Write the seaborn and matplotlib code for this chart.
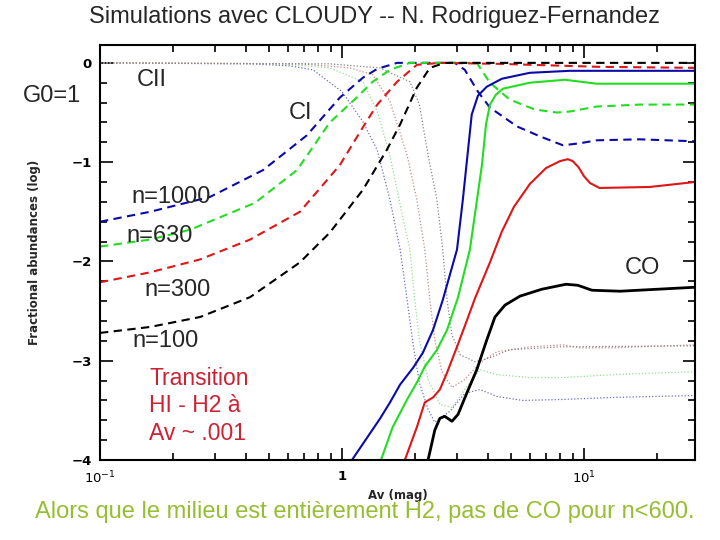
import matplotlib
matplotlib.use("Agg")
import matplotlib.pyplot as plt
import seaborn as sns
from matplotlib.ticker import MultipleLocator, LogLocator, NullFormatter

# ------------------------------------------------------
# Data (Av in mag, log abundances)
# ------------------------------------------------------
densities = ["1000", "630", "300", "100"]
colors = {"1000": "#0a0aa8", "630": "#22dd22", "300": "#dd1616", "100": "#000000"}
dot_colors = {"1000": "#6a6ac8", "630": "#8fe08f", "300": "#d08585", "100": "#858585"}

# CII (dashed)
cii_av = {
    "1000": [0.1, 0.161, 0.285, 0.472, 0.716, 0.98, 1.22, 1.40, 1.69, 2.93, 3.22, 3.65,
             4.09, 5.29, 6.58, 8.19, 9.62, 11.3, 17.0, 28.8],
    "630": [0.1, 0.161, 0.236, 0.437, 0.652, 0.891, 1.15, 1.34, 1.58, 1.91, 3.61, 4.09,
            4.94, 6.27, 7.73, 8.75, 11.3, 17.0, 28.8],
    "300": [0.1, 0.161, 0.259, 0.417, 0.670, 0.98, 1.22, 1.40, 1.69, 2.04, 2.54, 4.50,
            11.6, 28.8],
    "100": [0.1, 0.161, 0.259, 0.417, 0.670, 0.891, 1.22, 1.53, 1.74, 2.04, 2.31, 2.66, 28.8],
}
cii_ab = {
    "1000": [-1.60, -1.50, -1.35, -1.08, -0.73, -0.35, -0.15, -0.06, 0.0, 0.0, -0.07, -0.29,
             -0.45, -0.64, -0.74, -0.83, -0.81, -0.78, -0.77, -0.79],
    "630": [-1.85, -1.78, -1.68, -1.41, -1.08, -0.60, -0.35, -0.19, -0.07, 0.0, 0.0, -0.20,
            -0.37, -0.47, -0.50, -0.49, -0.44, -0.42, -0.42],
    "300": [-2.21, -2.11, -1.98, -1.78, -1.50, -1.03, -0.65, -0.42, -0.19, -0.02, 0.0, -0.01,
            -0.04, -0.05],
    "100": [-2.72, -2.66, -2.56, -2.36, -2.01, -1.71, -1.28, -0.88, -0.62, -0.25, -0.05, 0.0, 0.0],
}

# CI (dotted)
ci_av = {
    "1000": [0.1, 0.417, 0.609, 0.759, 1.0, 1.22, 1.40, 1.58, 1.74, 1.86, 1.97, 2.09, 2.27,
             2.42, 2.79, 3.22, 3.72, 4.37, 5.60, 8.19, 13.2, 28.8],
    "630": [0.1, 0.555, 0.891, 1.22, 1.40, 1.58, 1.74, 1.91, 2.00, 2.09, 2.27, 2.54, 2.85,
            3.22, 3.72, 4.37, 5.98, 8.19, 13.2, 28.8],
    "300": [0.1, 0.670, 1.08, 1.34, 1.58, 1.86, 2.04, 2.20, 2.31, 2.42, 2.59, 2.85, 3.22,
            3.72, 4.37, 5.98, 8.19, 9.62, 13.2, 28.8],
    "100": [0.1, 0.891, 1.43, 1.91, 2.09, 2.27, 2.47, 2.61, 2.72, 2.85, 3.08, 3.55, 4.09,
            4.94, 7.96, 28.8],
}
ci_ab = {
    "1000": [0.0, -0.01, -0.03, -0.07, -0.29, -0.59, -0.88, -1.38, -1.88, -2.39, -2.84, -3.22,
             -3.49, -3.62, -3.51, -3.33, -3.29, -3.36, -3.40, -3.39, -3.37, -3.35],
    "630": [0.0, -0.01, -0.05, -0.19, -0.49, -0.93, -1.43, -1.88, -2.39, -2.79, -3.19, -3.44,
            -3.47, -3.29, -3.09, -3.14, -3.17, -3.17, -3.14, -3.11],
    "300": [0.0, -0.01, -0.05, -0.12, -0.39, -0.93, -1.38, -1.88, -2.39, -2.79, -3.11, -3.27,
            -3.19, -3.02, -2.91, -2.86, -2.84, -2.87, -2.87, -2.84],
    "100": [0.0, -0.01, -0.05, -0.19, -0.42, -0.93, -1.38, -1.88, -2.39, -2.74, -2.94, -3.01,
            -2.97, -2.89, -2.86, -2.85],
}

# CO (solid)
co_av = {
    "1000": [1.10, 1.44, 1.58, 1.74, 1.97, 2.16, 2.38, 2.61, 2.99, 3.16, 3.32, 3.44, 3.65,
             3.97, 4.58, 5.98, 8.75, 28.8],
    "630": [1.45, 1.62, 1.86, 2.04, 2.20, 2.47, 2.72, 3.02, 3.38, 3.65, 3.79, 3.94, 4.09,
            4.33, 4.63, 5.98, 8.35, 11.3, 28.8],
    "300": [1.82, 2.04, 2.20, 2.38, 2.54, 2.72, 2.99, 3.29, 3.55, 4.09, 4.58, 5.14, 5.98,
            6.97, 7.96, 8.59, 9.0, 9.5, 10.0, 10.6, 11.6, 18.7, 28.8],
    "100": [2.27, 2.42, 2.54, 2.66, 2.85, 3.02, 3.29, 3.61, 3.97, 4.29, 4.72, 5.44, 6.70,
            8.43, 9.44, 10.8, 14.1, 28.8],
}
co_ab = {
    "1000": [-4.00, -3.58, -3.42, -3.24, -3.07, -2.92, -2.69, -2.39, -1.88, -1.38, -0.88,
             -0.52, -0.33, -0.24, -0.16, -0.10, -0.08, -0.08],
    "630": [-4.00, -3.67, -3.39, -3.22, -3.06, -2.89, -2.69, -2.36, -1.88, -1.31, -1.03,
            -0.62, -0.42, -0.32, -0.26, -0.20, -0.17, -0.21, -0.21],
    "300": [-4.00, -3.67, -3.42, -3.37, -3.29, -3.12, -2.86, -2.59, -2.37, -2.01, -1.70,
            -1.45, -1.22, -1.06, -0.99, -0.97, -0.99, -1.05, -1.14, -1.21, -1.26, -1.25, -1.20],
    "100": [-4.00, -3.70, -3.58, -3.56, -3.61, -3.54, -3.32, -3.09, -2.79, -2.56, -2.44,
            -2.35, -2.28, -2.23, -2.24, -2.29, -2.30, -2.26],
}

# ------------------------------------------------------
# Figure
# ------------------------------------------------------
sns.set_style("ticks")
plt.rcParams["font.family"] = ["Liberation Sans", "DejaVu Sans"]

fig = plt.figure(figsize=(7.2, 5.4), dpi=100)
ax = fig.add_axes([100 / 720, 80 / 540, 595 / 720, 415 / 540])
ax.set_xscale("log")

for n in densities:
    sns.lineplot(x=ci_av[n], y=ci_ab[n], ax=ax, color=dot_colors[n], sort=False,
                 estimator=None, linewidth=0.9, linestyle=(0, (1, 1.6)))
for n in densities:
    sns.lineplot(x=cii_av[n], y=cii_ab[n], ax=ax, color=colors[n], sort=False,
                 estimator=None, linewidth=1.5, linestyle=(0, (4, 2.6)))
for n in densities:
    sns.lineplot(x=co_av[n], y=co_ab[n], ax=ax, color=colors[n], sort=False,
                 estimator=None, linewidth=1.5 if n != "100" else 2.0)

ax.set_xlim(0.1, 28.8)
ax.set_ylim(-4, 0.18)

# ticks
ax.set_xticks([0.1, 1, 10])
ax.set_xticklabels(["$10^{-1}$", "1", "$10^{1}$"])
ax.xaxis.set_minor_locator(LogLocator(base=10, subs=range(2, 10)))
ax.xaxis.set_minor_formatter(NullFormatter())
ax.set_yticks([0, -1, -2, -3, -4])
ax.set_yticklabels(["0", "\u22121", "\u22122", "\u22123", "\u22124"])
ax.yaxis.set_minor_locator(MultipleLocator(0.2))
ax.tick_params(which="both", direction="in", top=True, right=True, width=1.2, colors="black")
ax.tick_params(which="major", length=9, labelsize=9.5)
ax.tick_params(which="minor", length=5)
ax.tick_params(axis="x", which="major", pad=7)
ax.tick_params(axis="y", which="major", pad=6)
for lab in ax.get_xticklabels() + ax.get_yticklabels():
    lab.set_family("DejaVu Sans")
    lab.set_fontweight("bold")
for sp in ax.spines.values():
    sp.set_linewidth(1.5)
    sp.set_color("black")

ax.set_xlabel("Av (mag)", family="DejaVu Sans", fontweight="bold", fontsize=8.5, labelpad=2)
ax.set_ylabel("Fractional abundances (log)", family="DejaVu Sans", fontweight="bold",
              fontsize=8.5, labelpad=22)


def px(x, y):
    return x / 720, 1 - y / 540


# annotations
fig.text(*px(374, 17), "Simulations avec CLOUDY -- N. Rodriguez-Fernandez",
         ha="center", va="center", fontsize=17)
fig.text(*px(52, 96), "G0=1", ha="center", va="center", fontsize=17)
fig.text(*px(152, 80), "CII", ha="center", va="center", fontsize=17)
fig.text(*px(300, 113), "CI", ha="center", va="center", fontsize=17)
fig.text(*px(171, 197), "n=1000", ha="center", va="center", fontsize=17)
fig.text(*px(160, 236), "n=630", ha="center", va="center", fontsize=17)
fig.text(*px(178, 290), "n=300", ha="center", va="center", fontsize=17)
fig.text(*px(166, 341), "n=100", ha="center", va="center", fontsize=17)
fig.text(*px(642, 268), "CO", ha="center", va="center", fontsize=17)
fig.text(*px(149, 406), "Transition\nHI - H2 à\nAv ~ .001", ha="left", va="center",
         fontsize=16.5, color="#cc2233", linespacing=1.25)
fig.text(*px(365, 512), "Alors que le milieu est entièrement H2, pas de CO pour n<600.",
         ha="center", va="center", fontsize=17, color="#96be32")

fig.savefig("out.png", dpi=100)
